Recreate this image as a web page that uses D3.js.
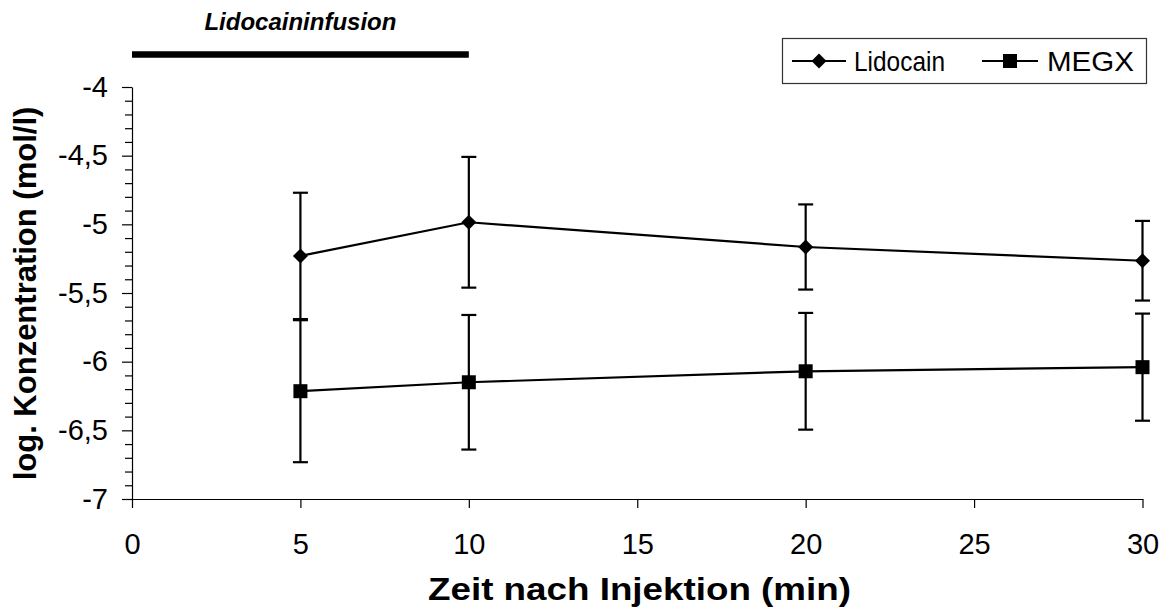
<!DOCTYPE html>
<html>
<head>
<meta charset="utf-8">
<script src="https://cdn.jsdelivr.net/npm/d3@7"></script>
<style>
  html, body { margin: 0; padding: 0; background: #fff; }
  svg { display: block; font-family: "Liberation Sans", Arial, sans-serif; }
</style>
</head>
<body>
<svg id="chart" width="1165" height="612"></svg>
<script>
// Sampling times (min) and mean log concentrations with standard deviations
const times = [5, 10, 20, 30];
const lidocainMean = [-5.23, -4.985, -5.165, -5.265];
const lidocainSD = [0.46, 0.476, 0.31, 0.29];
const megxMean = [-6.215, -6.15, -6.07, -6.04];
const megxSD = [0.517, 0.49, 0.425, 0.39];

const xTicks = [0, 5, 10, 15, 20, 25, 30];
const yTicks = [-7, -6.5, -6, -5.5, -5, -4.5, -4];
const infusionPeriod = [0, 10];

const svg = d3.select("#chart");
const x = d3.scaleLinear().domain([0, 30]).range([132, 1142.5]);
const y = d3.scaleLinear().domain([-7, -4]).range([499, 87]);

const de = d3.formatLocale({ decimal: ",", thousands: ".", grouping: [3], currency: ["", " €"], minus: "-" });
const fmt = de.format("");
const FONT = "Liberation Sans, Arial, sans-serif";

// minor ticks every 0.1
const minor = d3.range(-70, -39).map(v => v / 10).filter(v => Math.abs(v * 2 - Math.round(v * 2)) > 1e-6);
svg.append("g")
  .attr("transform", `translate(${x(0)},0)`)
  .call(d3.axisLeft(y).tickValues(minor).tickSize(7).tickFormat(""))
  .call(g => g.select(".domain").remove())
  .selectAll("line").attr("stroke", "#000").attr("stroke-width", 1.2);

const yAxis = svg.append("g")
  .attr("transform", `translate(${x(0)},0)`)
  .call(d3.axisLeft(y).tickValues(yTicks).tickSize(10).tickSizeOuter(0).tickPadding(14).tickFormat(fmt));
yAxis.selectAll("text").attr("font-size", 29).attr("fill", "#000").attr("font-family", FONT);
yAxis.selectAll("line").attr("stroke", "#000").attr("stroke-width", 1.2);
yAxis.select(".domain").attr("stroke", "#000").attr("stroke-width", 1.2);

const xAxis = svg.append("g")
  .attr("transform", `translate(0,${y(-7)})`)
  .call(d3.axisBottom(x).tickValues(xTicks).tickSize(9).tickSizeOuter(0).tickPadding(25).tickFormat(d3.format("d")));
xAxis.selectAll("text").attr("font-size", 29).attr("fill", "#000").attr("font-family", FONT);
xAxis.selectAll("line").attr("stroke", "#000").attr("stroke-width", 1.2);
xAxis.select(".domain").attr("stroke", "#000").attr("stroke-width", 1.2);

// axis titles
svg.append("text")
  .attr("x", 639.5).attr("y", 600)
  .attr("text-anchor", "middle")
  .attr("font-size", 31).attr("font-weight", "bold")
  .attr("textLength", 423).attr("lengthAdjust", "spacingAndGlyphs")
  .text("Zeit nach Injektion (min)");
svg.append("text")
  .attr("transform", `translate(36,293.5) rotate(-90)`)
  .attr("text-anchor", "middle")
  .attr("font-size", 31).attr("font-weight", "bold")
  .text("log. Konzentration (mol/l)");

// infusion period bar and label
svg.append("line")
  .attr("x1", x(infusionPeriod[0])).attr("x2", x(infusionPeriod[1]))
  .attr("y1", 54.5).attr("y2", 54.5)
  .attr("stroke", "#000").attr("stroke-width", 6.5);
svg.append("text")
  .attr("x", x((infusionPeriod[0] + infusionPeriod[1]) / 2)).attr("y", 30)
  .attr("text-anchor", "middle")
  .attr("font-size", 24).attr("font-weight", "bold").attr("font-style", "italic")
  .text("Lidocaininfusion");

const series = [
  { name: "Lidocain", mean: lidocainMean, sd: lidocainSD, shape: "diamond" },
  { name: "MEGX", mean: megxMean, sd: megxSD, shape: "square" }
];

function marker(g, shape) {
  if (shape === "diamond") {
    g.append("path").attr("d", "M0,-7.5L7.5,0L0,7.5L-7.5,0Z").attr("fill", "#000");
  } else {
    g.append("rect").attr("x", -7).attr("y", -7).attr("width", 14).attr("height", 14).attr("fill", "#000");
  }
}

const line = d3.line().x(d => x(d.t)).y(d => y(d.m));

series.forEach(s => {
  const pts = times.map((t, i) => ({ t, m: s.mean[i], sd: s.sd[i] }));
  const g = svg.append("g");
  // error bars
  pts.forEach(p => {
    const cx = x(p.t);
    const hi = y(p.m + p.sd), lo = y(p.m - p.sd);
    g.append("line").attr("x1", cx).attr("x2", cx).attr("y1", hi).attr("y2", lo)
      .attr("stroke", "#000").attr("stroke-width", 2.2);
    [hi, lo].forEach(v => g.append("line")
      .attr("x1", cx - 7.5).attr("x2", cx + 7.5).attr("y1", v).attr("y2", v)
      .attr("stroke", "#000").attr("stroke-width", 2.2));
  });
  g.append("path").datum(pts).attr("d", line)
    .attr("fill", "none").attr("stroke", "#000").attr("stroke-width", 2.2);
  pts.forEach(p => marker(g.append("g").attr("transform", `translate(${x(p.t)},${y(p.m)})`), s.shape));
});

// legend
const legend = svg.append("g");
legend.append("rect")
  .attr("x", 782.5).attr("y", 38.5).attr("width", 364).attr("height", 45)
  .attr("fill", "#fff").attr("stroke", "#333").attr("stroke-width", 1.2);
const legendItems = [
  { s: series[0], x0: 792, x1: 846, tx: 854, w: 91 },
  { s: series[1], x0: 982, x1: 1038, tx: 1047, w: 87 }
];
legendItems.forEach(it => {
  const cy = 61;
  legend.append("line").attr("x1", it.x0).attr("x2", it.x1).attr("y1", cy).attr("y2", cy)
    .attr("stroke", "#000").attr("stroke-width", 2.2);
  marker(legend.append("g").attr("transform", `translate(${(it.x0 + it.x1) / 2},${cy})`), it.s.shape);
  legend.append("text").attr("x", it.tx).attr("y", cy + 10)
    .attr("font-size", 28)
    .attr("textLength", it.w).attr("lengthAdjust", "spacingAndGlyphs")
    .text(it.s.name);
});
</script>
</body>
</html>
